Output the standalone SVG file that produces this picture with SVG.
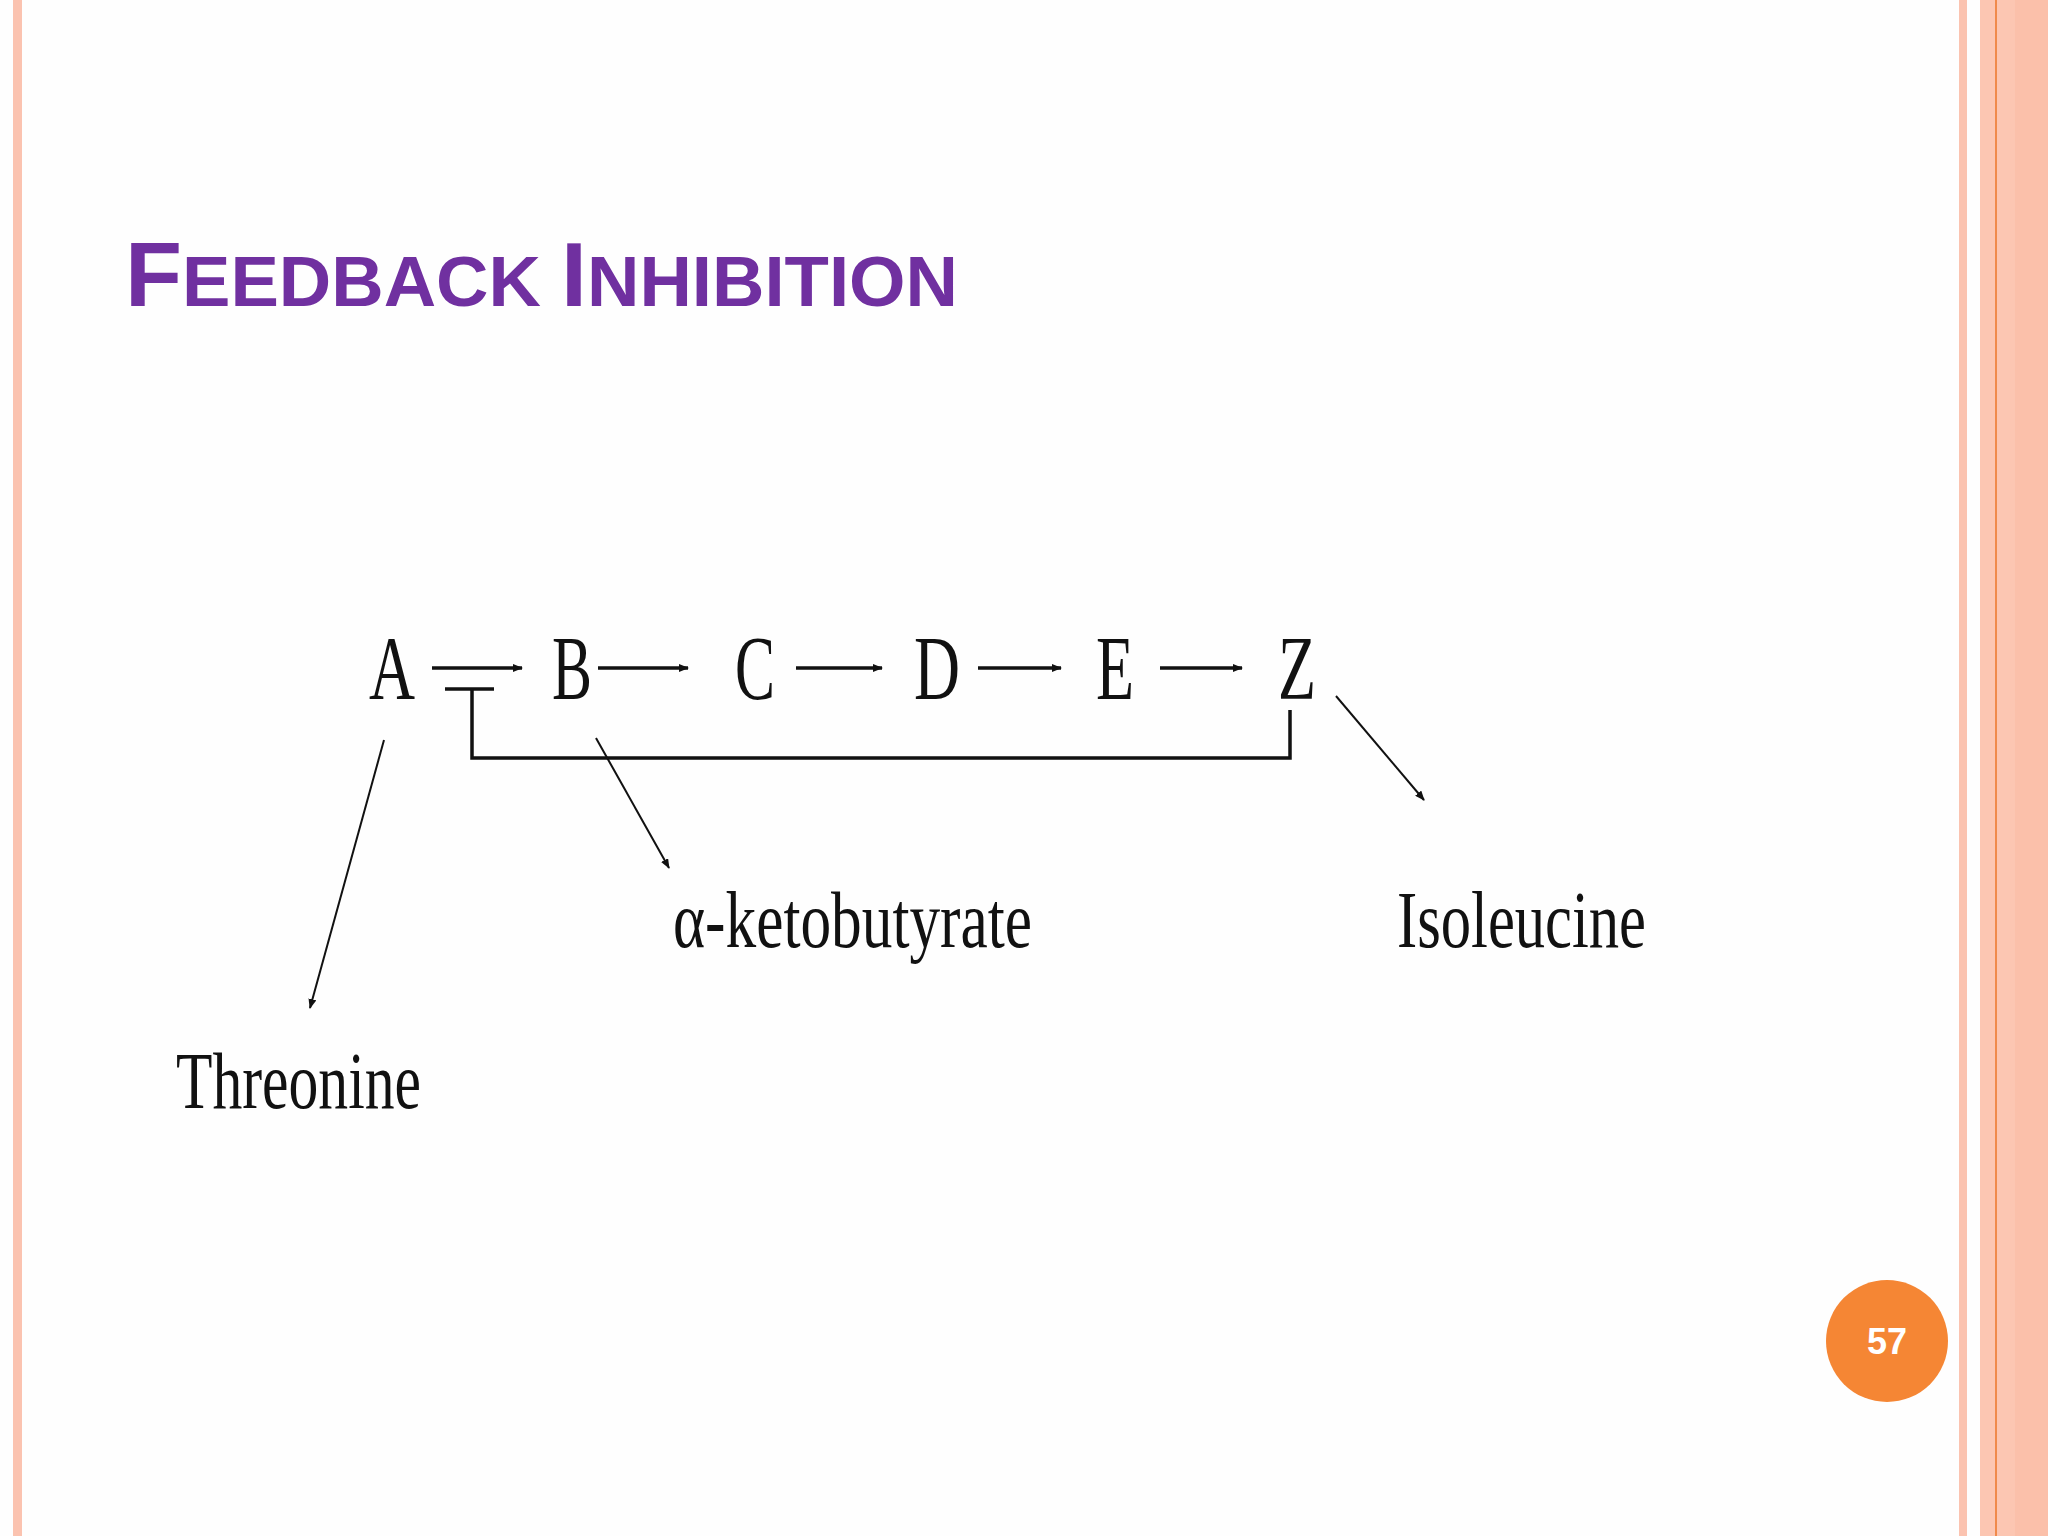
<svg xmlns="http://www.w3.org/2000/svg" width="2048" height="1536" viewBox="0 0 2048 1536">
<defs>
<marker id="ah" markerWidth="10" markerHeight="8" refX="9" refY="4" orient="auto" markerUnits="userSpaceOnUse"><path d="M0,0 L10,4 L0,8 z" fill="#111"/></marker>
</defs>
<style>
.n{font-family:"Liberation Serif",serif;font-size:90px;fill:#111}
.l{font-family:"Liberation Serif",serif;font-size:80px;fill:#111}
.c{stroke:#111;stroke-width:3.5;fill:none}
</style>
<rect width="2048" height="1536" fill="#fefefe"/>
<rect x="13" y="0" width="9" height="1536" fill="#fbc3b0"/>
<rect x="1959" y="0" width="8" height="1536" fill="#fbc3b0"/>
<rect x="1980" y="0" width="68" height="1536" fill="#fcc6b2"/>
<rect x="2015" y="0" width="33" height="1536" fill="#fbc0aa"/>
<rect x="1995" y="0" width="2" height="1536" fill="#f08a4b"/>
<text x="125" y="306" font-family="Liberation Sans,Arial,sans-serif" font-weight="bold" fill="#7030a0" textLength="833" lengthAdjust="spacingAndGlyphs"><tspan font-size="90">F</tspan><tspan font-size="70">EEDBACK </tspan><tspan font-size="90">I</tspan><tspan font-size="70">NHIBITION</tspan></text>
<g id="A"><text class="n" x="369" y="699" textLength="46" lengthAdjust="spacingAndGlyphs">A</text></g>
<g id="B"><text class="n" x="552" y="699" textLength="40" lengthAdjust="spacingAndGlyphs">B</text></g>
<g id="C"><text class="n" x="735" y="699" textLength="40" lengthAdjust="spacingAndGlyphs">C</text></g>
<g id="D"><text class="n" x="914" y="699" textLength="46" lengthAdjust="spacingAndGlyphs">D</text></g>
<g id="E"><text class="n" x="1096" y="699" textLength="38" lengthAdjust="spacingAndGlyphs">E</text></g>
<g id="Z"><text class="n" x="1278" y="699" textLength="38" lengthAdjust="spacingAndGlyphs">Z</text></g>
<g id="Threonine"><text class="l" x="176" y="1108" textLength="245" lengthAdjust="spacingAndGlyphs">Threonine</text></g>
<g id="ketobutyrate"><text class="l" x="673" y="947" textLength="359" lengthAdjust="spacingAndGlyphs">α-ketobutyrate</text></g>
<g id="Isoleucine"><text class="l" x="1397" y="947" textLength="249" lengthAdjust="spacingAndGlyphs">Isoleucine</text></g>
<g id="connectors">
<line class="c" x1="432" y1="668" x2="522" y2="668" marker-end="url(#ah)"/>
<line class="c" x1="598" y1="668" x2="688" y2="668" marker-end="url(#ah)"/>
<line class="c" x1="796" y1="668" x2="882" y2="668" marker-end="url(#ah)"/>
<line class="c" x1="978" y1="668" x2="1061" y2="668" marker-end="url(#ah)"/>
<line class="c" x1="1160" y1="668" x2="1242" y2="668" marker-end="url(#ah)"/>
<line class="c" x1="445" y1="689" x2="494" y2="689"/>
<polyline class="c" points="472,689 472,758 1290,758 1290,710"/>
<line x1="384" y1="740" x2="310" y2="1008" stroke="#111" stroke-width="2" marker-end="url(#ah)"/>
<line x1="596" y1="738" x2="669" y2="868" stroke="#111" stroke-width="2" marker-end="url(#ah)"/>
<line x1="1336" y1="696" x2="1424" y2="800" stroke="#111" stroke-width="2" marker-end="url(#ah)"/>
</g>
<circle cx="1887" cy="1341" r="61" fill="#f58634"/>
<text x="1887" y="1354" text-anchor="middle" font-family="Liberation Sans,Arial,sans-serif" font-weight="bold" font-size="36" fill="#fff">57</text>
</svg>
